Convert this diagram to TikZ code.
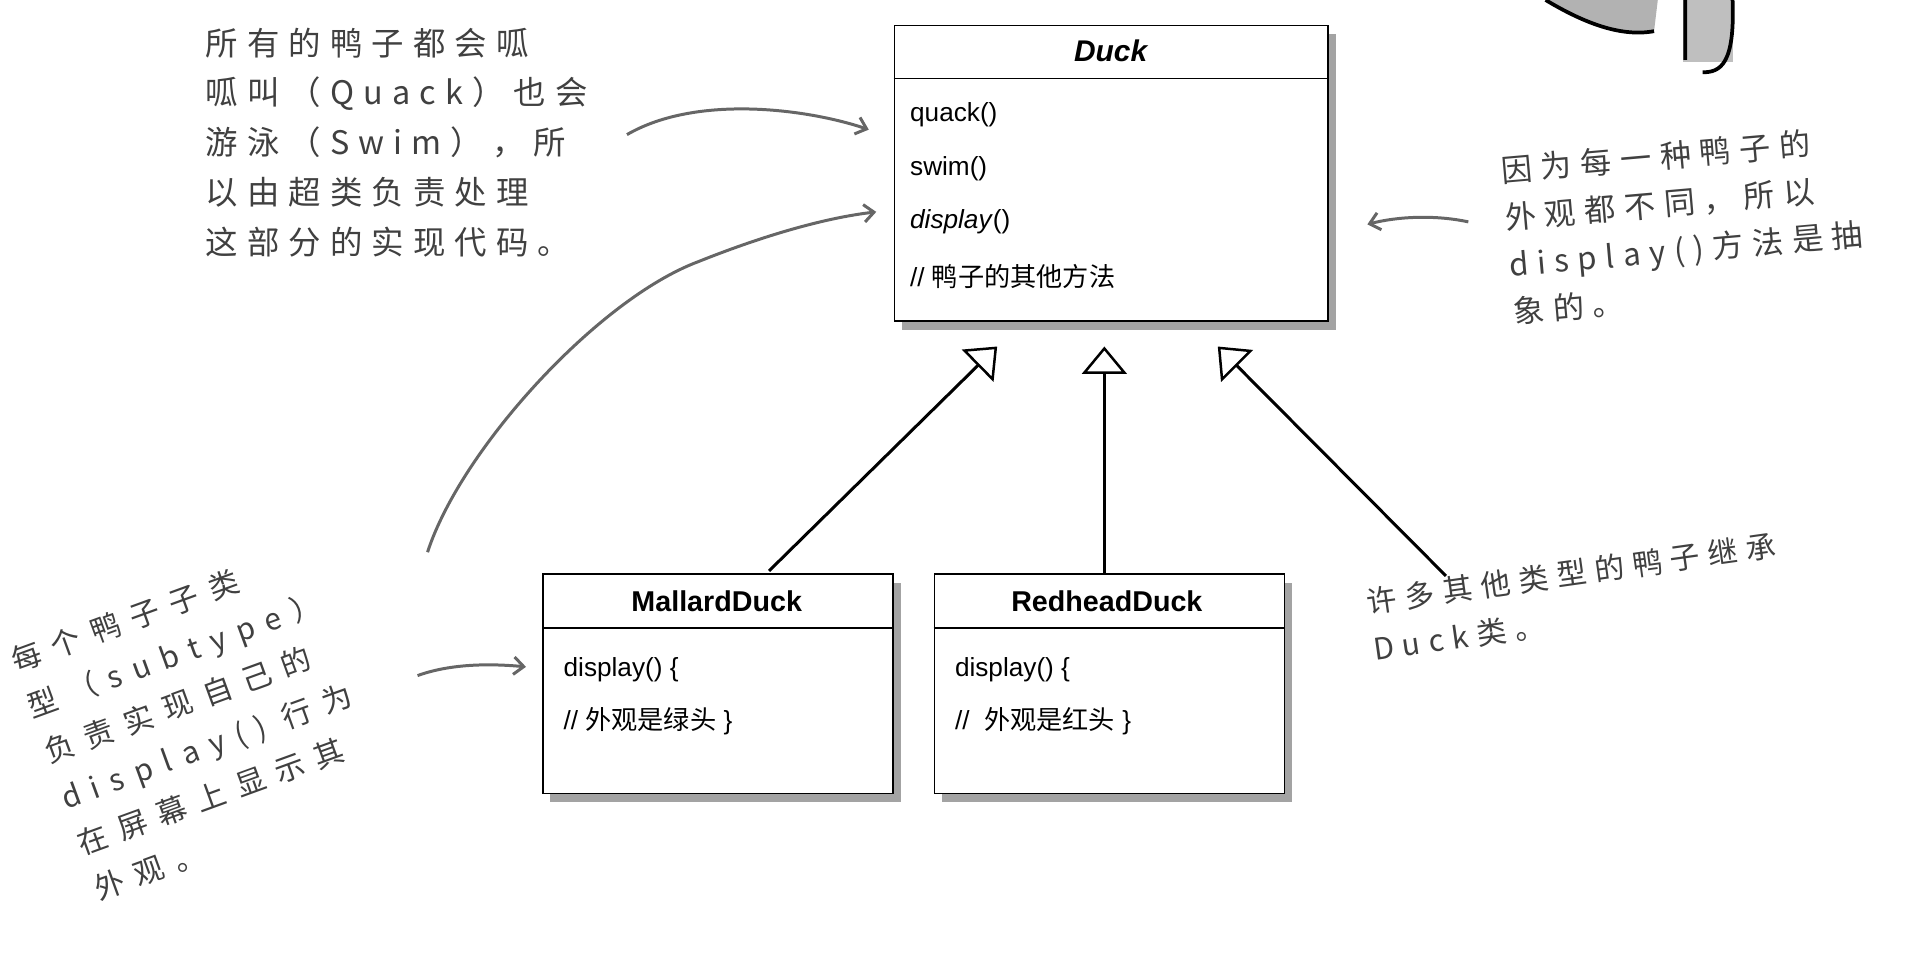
\documentclass[tikz,border=0pt]{standalone}
\usepackage{fontspec}
\setmainfont{Liberation Sans}
\newfontfamily\cjk{Noto Sans CJK SC}
\newfontfamily\cjksp[LetterSpace=40]{Noto Sans CJK SC}
\newfontfamily\cjkspb[LetterSpace=28]{Noto Sans CJK SC}
\usetikzlibrary{shadows,arrows.meta}
\begin{document}
\begin{tikzpicture}[x=1pt,y=-1pt,
  cls/.style={draw,line width=1.2pt,fill=white,drop shadow={shadow xshift=6pt,shadow yshift=-7pt,opacity=.6,fill=black!60}},
  note/.style={font=\cjksp\fontsize{25}{40}\selectfont,color=black!75,align=left,inner sep=0},
  garr/.style={draw=black!60,line width=2.4pt,-{Straight Barb[length=8pt,width=14pt]}},
  inh/.style={draw,line width=2.4pt,-{Triangle[open,length=22pt,width=36pt,line width=2pt]}},
  mt/.style={anchor=west,font=\fontsize{21}{24}\selectfont,inner sep=0}]
\useasboundingbox (0,0) rectangle (1550,765);
% hand sketch fragment
\fill[black!30] (1240,0) .. controls (1270,18) and (1300,30) .. (1327,25) -- (1330,0) -- cycle;
\draw[line width=3pt] (1240,0) .. controls (1270,18) and (1300,30) .. (1327,25);
\fill[black!25] (1350,0) rectangle (1390,50);
\draw[line width=3pt] (1352,0) -- (1352,48) (1366,58) .. controls (1380,58) and (1392,52) .. (1390,0);
% Duck class
\node[cls,minimum width=348pt,minimum height=237pt,anchor=north west] (duck) at (717,20) {};
\draw[line width=1.2pt] (717,63) -- (1065,63);
\node[font=\bfseries\itshape\fontsize{24}{26}\selectfont] (dt) at (891,41) {Duck};
\node[mt] (m1) at (730,92) {quack()};
\node[mt] (m2) at (730,135) {swim()};
\node[mt] (m3) at (730,178) {\textit{display}()};
\node[mt] (m4) at (730,222) {// {\cjk 鸭子的其他方法}};
% Subclasses
\node[cls,minimum width=281pt,minimum height=176pt,anchor=north west] (mal) at (435,460) {};
\draw[line width=1.2pt] (435,504) -- (716,504);
\node[font=\bfseries\fontsize{23}{26}\selectfont] (mt1) at (575,482) {MallardDuck};
\node[mt] (ma) at (452,537) {display() \{};
\node[mt] (mb) at (452,579) {// {\cjk 外观是绿头} \}};
\node[cls,minimum width=281pt,minimum height=176pt,anchor=north west] (red) at (749,460) {};
\draw[line width=1.2pt] (749,504) -- (1030,504);
\node[font=\bfseries\fontsize{23}{26}\selectfont] (rt1) at (888,482) {RedheadDuck};
\node[mt] (ra) at (766,537) {display() \{};
\node[mt] (rb) at (766,579) {//\ \ {\cjk 外观是红头} \}};
% inheritance
\coordinate (t1) at (800,278); \coordinate (t2) at (886,278); \coordinate (t3) at (977,278);
\coordinate (s3) at (1160,462);
\draw[inh] (617,458) -- (t1);
\draw[inh] (886,460) -- (t2);
\draw[inh] (s3) -- (t3);
% notes
\node[note,anchor=north west,font=\cjkspb\fontsize{26}{40}\selectfont] (n1) at (165,22) {所有的鸭子都会呱\\呱叫（Quack）也会\\游泳（Swim），所\\以由超类负责处理\\这部分的实现代码。};
\node[note,anchor=north west,rotate=5,font=\cjkspb\fontsize{25}{38}\selectfont] (n2) at (1203,125) {因为每一种鸭子的\\外观都不同，所以\\display()方法是抽\\象的。};
\node[note,anchor=north west,rotate=8,font=\cjkspb\fontsize{24}{38}\selectfont] (n3) at (1095,472) {许多其他类型的鸭子继承\\Duck类。};
\node[note,anchor=center,rotate=20,font=\cjksp\fontsize{24}{39}\selectfont] (n4) at (160,580) {每个鸭子子类\\ 型（subtype）\\ 负责实现自己的\\ display() 行为\\ 在屏幕上显示其\\ 外观。};
% gray arrows
\coordinate (a1s) at (503,108); \coordinate (a2s) at (343,443);
\coordinate (a3s) at (335,542); \coordinate (a4s) at (1178,178);
\draw[garr] (a1s) .. controls (560,75) and (650,88) .. (697,104);
\draw[garr] (a2s) .. controls (370,360) and (480,240) .. (560,210) .. controls (610,190) and (660,175) .. (703,170);
\draw[garr] (a3s) .. controls (360,533) and (390,532) .. (422,535);
\draw[garr] (a4s) .. controls (1150,172) and (1120,174) .. (1097,180);
\end{tikzpicture}
\end{document}
